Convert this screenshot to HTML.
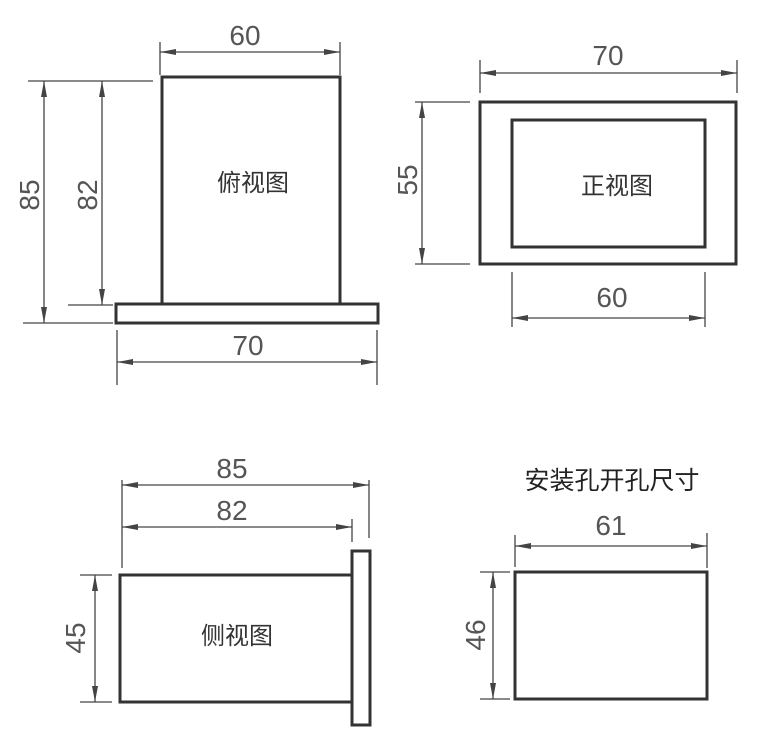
<!DOCTYPE html>
<html><head><meta charset="utf-8"><style>
html,body{margin:0;padding:0;background:#fff;}
svg{display:block;}
.d{stroke:#444;stroke-width:1.3;fill:none;}
.b{stroke:#333;stroke-width:3;fill:none;}
.n{font-family:"Liberation Sans",sans-serif;font-size:28px;fill:#555;text-anchor:middle;}
.c{font-family:"Liberation Sans","Noto Sans CJK SC",sans-serif;font-size:24px;fill:#333;text-anchor:middle;}
.t{font-family:"Liberation Sans","Noto Sans CJK SC",sans-serif;font-size:25px;fill:#222;text-anchor:middle;}
</style></head><body>
<svg width="760" height="740" viewBox="0 0 760 740" xmlns="http://www.w3.org/2000/svg">
<defs>
<marker id="a" viewBox="0 0 16 6" refX="16" refY="3" markerWidth="16" markerHeight="6" markerUnits="userSpaceOnUse" orient="auto-start-reverse">
<path d="M0,0 L16,3 L0,6 Z" fill="#444"/></marker>
</defs>
<!-- top-left view -->
<rect class="b" x="162" y="77" width="178" height="227"/>
<rect class="b" x="116" y="304" width="262" height="19"/>
<line class="d" x1="160" y1="42" x2="160" y2="75"/>
<line class="d" x1="340" y1="42" x2="340" y2="75"/>
<line class="d" x1="160" y1="52" x2="340" y2="52" marker-start="url(#a)" marker-end="url(#a)"/>
<text class="n" x="245" y="45">60</text>
<line class="d" x1="28" y1="81" x2="153" y2="81"/>
<line class="d" x1="23" y1="323" x2="113" y2="323"/>
<line class="d" x1="68" y1="305" x2="113" y2="305"/>
<line class="d" x1="44" y1="81" x2="44" y2="323" marker-start="url(#a)" marker-end="url(#a)"/>
<line class="d" x1="102" y1="81" x2="102" y2="305" marker-start="url(#a)" marker-end="url(#a)"/>
<text class="n" transform="translate(39,195) rotate(-90)">85</text>
<text class="n" transform="translate(97,195) rotate(-90)">82</text>
<line class="d" x1="117" y1="330" x2="117" y2="385"/>
<line class="d" x1="377" y1="330" x2="377" y2="385"/>
<line class="d" x1="117" y1="362" x2="377" y2="362" marker-start="url(#a)" marker-end="url(#a)"/>
<text class="n" x="248" y="355">70</text>
<text class="c" x="253" y="191">俯视图</text>
<!-- front view -->
<rect class="b" x="480" y="102" width="256" height="162"/>
<rect class="b" x="512" y="120" width="193" height="127"/>
<line class="d" x1="480" y1="60" x2="480" y2="93"/>
<line class="d" x1="737" y1="60" x2="737" y2="93"/>
<line class="d" x1="480" y1="73" x2="737" y2="73" marker-start="url(#a)" marker-end="url(#a)"/>
<text class="n" x="608" y="65">70</text>
<line class="d" x1="415" y1="102" x2="470" y2="102"/>
<line class="d" x1="415" y1="264" x2="470" y2="264"/>
<line class="d" x1="422" y1="102" x2="422" y2="264" marker-start="url(#a)" marker-end="url(#a)"/>
<text class="n" transform="translate(417,180) rotate(-90)">55</text>
<line class="d" x1="512" y1="272" x2="512" y2="327"/>
<line class="d" x1="705" y1="272" x2="705" y2="327"/>
<line class="d" x1="512" y1="318" x2="705" y2="318" marker-start="url(#a)" marker-end="url(#a)"/>
<text class="n" x="612" y="307">60</text>
<text class="c" x="617" y="194">正视图</text>
<!-- side view -->
<rect class="b" x="120" y="575" width="232" height="127"/>
<rect class="b" x="352" y="551" width="18" height="174"/>
<line class="d" x1="122" y1="480" x2="122" y2="568"/>
<line class="d" x1="369" y1="480" x2="369" y2="538"/>
<line class="d" x1="352" y1="519" x2="352" y2="542"/>
<line class="d" x1="122" y1="485" x2="369" y2="485" marker-start="url(#a)" marker-end="url(#a)"/>
<line class="d" x1="122" y1="527" x2="352" y2="527" marker-start="url(#a)" marker-end="url(#a)"/>
<text class="n" x="232" y="478">85</text>
<text class="n" x="232" y="520">82</text>
<line class="d" x1="80" y1="575" x2="112" y2="575"/>
<line class="d" x1="80" y1="702" x2="112" y2="702"/>
<line class="d" x1="95" y1="575" x2="95" y2="702" marker-start="url(#a)" marker-end="url(#a)"/>
<text class="n" transform="translate(85,638) rotate(-90)">45</text>
<text class="c" x="237" y="644">侧视图</text>
<!-- cutout -->
<text class="t" x="612" y="489">安装孔开孔尺寸</text>
<rect class="b" x="515" y="572" width="192" height="127"/>
<line class="d" x1="515" y1="535" x2="515" y2="567"/>
<line class="d" x1="707" y1="533" x2="707" y2="568"/>
<line class="d" x1="515" y1="546" x2="707" y2="546" marker-start="url(#a)" marker-end="url(#a)"/>
<text class="n" x="611" y="535">61</text>
<line class="d" x1="480" y1="572" x2="510" y2="572"/>
<line class="d" x1="480" y1="699" x2="510" y2="699"/>
<line class="d" x1="493" y1="572" x2="493" y2="699" marker-start="url(#a)" marker-end="url(#a)"/>
<text class="n" transform="translate(485,635) rotate(-90)">46</text>
</svg>
</body></html>
